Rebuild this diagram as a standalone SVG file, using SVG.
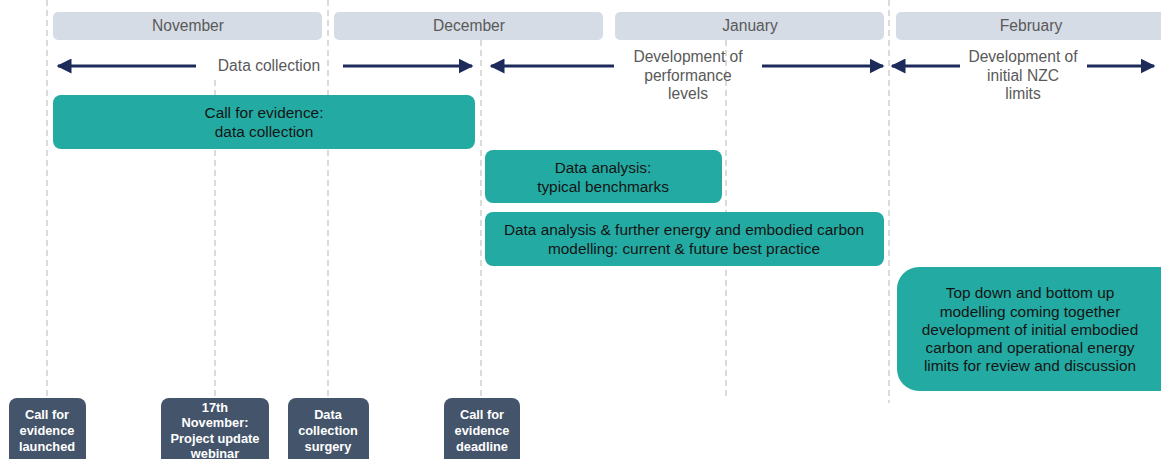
<svg xmlns="http://www.w3.org/2000/svg" width="1161" height="459" viewBox="0 0 1161 459">
<style>
text{font-family:"Liberation Sans",Arial,sans-serif}
.month{fill:#d6dce5}
.mt{fill:#595959;font-size:15.6px;text-anchor:middle}
.grid{stroke:#c8c8c8;stroke-width:1.3;stroke-dasharray:6,4;fill:none}
.arr{stroke:#1c2b5a;stroke-width:3;fill:none}
.at{fill:#595959;font-size:15.6px;text-anchor:middle}
.teal{fill:#23aba3}
.tt{fill:#141414;font-size:15.4px;text-anchor:middle}
.ms{fill:#44546a}
.mst{fill:#ffffff;font-size:12.8px;font-weight:bold;text-anchor:middle}
</style>
<defs>
<marker id="ah" viewBox="0 0 10 10" refX="9" refY="5" markerWidth="5" markerHeight="5" orient="auto-start-reverse" markerUnits="strokeWidth">
<path d="M0,0 L10,5 L0,10 z" fill="#1c2b5a"/>
</marker>
</defs>
<rect width="1161" height="459" fill="#ffffff"/>
<g id="gridlines">
<line class="grid" x1="47" y1="0" x2="47" y2="397"/>
<line class="grid" x1="215" y1="80" x2="215" y2="397"/>
<line class="grid" x1="328" y1="0" x2="328" y2="397"/>
<line class="grid" x1="481" y1="40" x2="481" y2="397"/>
<line class="grid" x1="726" y1="40" x2="726" y2="397"/>
<line class="grid" x1="889" y1="0" x2="889" y2="403"/>
</g>
<g id="months">
<g id="m-nov"><rect class="month" x="53" y="12" width="269" height="28" rx="5"/><text class="mt" x="188" y="31">November</text></g>
<g id="m-dec"><rect class="month" x="334" y="12" width="269" height="28" rx="5"/><text class="mt" x="469" y="31">December</text></g>
<g id="m-jan"><rect class="month" x="615" y="12" width="269" height="28" rx="5"/><text class="mt" x="750" y="31">January</text></g>
<g id="m-feb"><rect class="month" x="896" y="12" width="275" height="28" rx="5"/><text class="mt" x="1031" y="31">February</text></g>
</g>
<g id="connectors">
<line class="arr" x1="196" y1="66" x2="58" y2="66" marker-end="url(#ah)"/>
<line class="arr" x1="343" y1="66" x2="472" y2="66" marker-end="url(#ah)"/>
<line class="arr" x1="614" y1="66" x2="491" y2="66" marker-end="url(#ah)"/>
<line class="arr" x1="762" y1="66" x2="883" y2="66" marker-end="url(#ah)"/>
<line class="arr" x1="960" y1="66" x2="892" y2="66" marker-end="url(#ah)"/>
<line class="arr" x1="1087" y1="66" x2="1154" y2="66" marker-end="url(#ah)"/>
</g>
<g id="phase-labels">
<text class="at" x="269" y="71">Data collection</text>
<text class="at" x="688" y="62">Development of</text>
<text class="at" x="688" y="81">performance</text>
<text class="at" x="688" y="99">levels</text>
<text class="at" x="1023" y="62">Development of</text>
<text class="at" x="1023" y="81">initial NZC</text>
<text class="at" x="1023" y="99">limits</text>
</g>
<g id="task-call">
<rect class="teal" x="53" y="95" width="422" height="54" rx="8"/>
<text class="tt" x="264" y="118">Call for evidence:</text>
<text class="tt" x="264" y="137">data collection</text>
</g>
<g id="task-typical">
<rect class="teal" x="485" y="150" width="237" height="53" rx="8"/>
<text class="tt" x="603" y="173">Data analysis:</text>
<text class="tt" x="603" y="192">typical benchmarks</text>
</g>
<g id="task-best">
<rect class="teal" x="485" y="212" width="399" height="54" rx="8"/>
<text class="tt" x="684" y="235">Data analysis &amp; further energy and embodied carbon</text>
<text class="tt" x="684" y="254">modelling: current &amp; future best practice</text>
</g>
<g id="task-limits">
<rect class="teal" x="897" y="267" width="290" height="124" rx="22"/>
<text class="tt" x="1030" y="298">Top down and bottom up</text>
<text class="tt" x="1030" y="317">modelling coming together</text>
<text class="tt" x="1030" y="335">development of initial embodied</text>
<text class="tt" x="1030" y="353">carbon and operational energy</text>
<text class="tt" x="1030" y="371">limits for review and discussion</text>
</g>
<g id="ms-launch">
<rect class="ms" x="9" y="398" width="77" height="75" rx="8"/>
<text class="mst" x="47" y="419">Call for</text>
<text class="mst" x="47" y="435">evidence</text>
<text class="mst" x="47" y="451">launched</text>
</g>
<g id="ms-webinar">
<rect class="ms" x="161" y="398" width="108" height="75" rx="8"/>
<text class="mst" x="215" y="412">17th</text>
<text class="mst" x="215" y="427">November:</text>
<text class="mst" x="215" y="443">Project update</text>
<text class="mst" x="215" y="458">webinar</text>
</g>
<g id="ms-surgery">
<rect class="ms" x="288" y="398" width="81" height="75" rx="8"/>
<text class="mst" x="328" y="419">Data</text>
<text class="mst" x="328" y="435">collection</text>
<text class="mst" x="328" y="451">surgery</text>
</g>
<g id="ms-deadline">
<rect class="ms" x="444" y="398" width="76" height="75" rx="8"/>
<text class="mst" x="482" y="419">Call for</text>
<text class="mst" x="482" y="435">evidence</text>
<text class="mst" x="482" y="451">deadline</text>
</g>
</svg>
